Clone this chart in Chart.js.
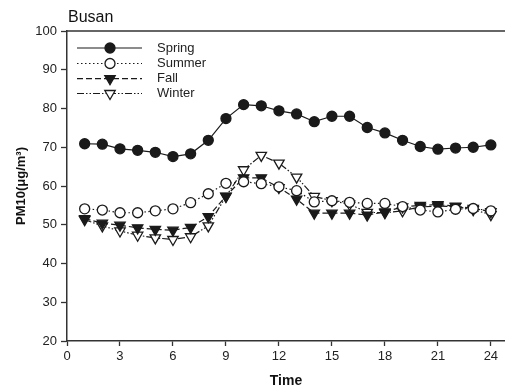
<!DOCTYPE html>
<html>
<head>
<meta charset="utf-8">
<script src="https://cdn.jsdelivr.net/npm/chart.js@4/dist/chart.umd.min.js"></script>
<style>
  html, body { margin: 0; padding: 0; background: #fff; }
  #wrap { width: 505px; height: 390px; position: relative; }
</style>
</head>
<body>
<div id="wrap"><canvas id="chart"></canvas></div>
<script>
const hours = [1,2,3,4,5,6,7,8,9,10,11,12,13,14,15,16,17,18,19,20,21,22,23,24];
const spring = [70.9,70.8,69.6,69.2,68.7,67.6,68.3,71.8,77.4,81.0,80.7,79.4,78.6,76.6,78.0,78.0,75.1,73.7,71.8,70.2,69.5,69.8,70.0,70.6];
const summer = [54.1,53.8,53.1,53.1,53.6,54.1,55.7,58.0,60.7,61.1,60.6,59.8,58.8,55.9,56.2,55.8,55.5,55.5,54.7,53.8,53.3,54.0,54.2,53.6];
const fall   = [51.6,50.4,49.9,49.2,48.8,48.6,49.3,52.1,57.4,62.1,62.1,59.6,56.6,53.0,53.0,53.0,52.5,53.3,54.6,55.0,55.2,54.8,54.2,53.4];
const winter = [51.3,49.7,48.4,47.3,46.6,46.2,46.9,49.7,57.3,64.2,67.9,65.9,62.3,57.3,56.2,55.3,53.2,53.1,53.6,54.6,54.8,54.7,53.9,52.6];
const seriesNames = ['Spring', 'Summer', 'Fall', 'Winter'];
const xTicks = [0,3,6,9,12,15,18,21,24];
const yTicks = [20,30,40,50,60,70,80,90,100];

const INK = '#1a1a1a';
const FONT = '"Liberation Sans", Arial, sans-serif';
const pts = arr => arr.map((v, i) => ({ x: hours[i], y: v }));

function series(label, data, dash, style, filled, radius, rot) {
  return {
    label, data: pts(data),
    borderColor: INK, borderWidth: 1.2, borderDash: dash,
    pointStyle: style, pointRotation: rot || 0, pointRadius: radius,
    pointBorderColor: INK, pointBorderWidth: 1.3,
    pointBackgroundColor: filled ? INK : '#fff',
    tension: 0, fill: false
  };
}

// legend with line samples + marker, plus title and top frame line
const decor = {
  id: 'decor',
  afterDraw(chart) {
    const { ctx, chartArea: a } = chart;
    ctx.save();
    ctx.strokeStyle = '#333'; ctx.lineWidth = 1.5;
    ctx.beginPath(); ctx.moveTo(a.left, a.top); ctx.lineTo(a.right, a.top); ctx.stroke();

    ctx.fillStyle = '#111';
    ctx.font = '16px ' + FONT;
    ctx.textBaseline = 'middle'; ctx.textAlign = 'left';
    ctx.fillText('Busan', 68, 18);

    const rows = [48, 63.5, 78.7, 93.5];
    chart.data.datasets.forEach((ds, i) => {
      const y = rows[i];
      ctx.strokeStyle = INK; ctx.lineWidth = 1.2;
      ctx.setLineDash(ds.borderDash || []);
      ctx.beginPath(); ctx.moveTo(77, y); ctx.lineTo(142, y); ctx.stroke();
      ctx.setLineDash([]);
      ctx.fillStyle = ds.pointBackgroundColor; ctx.strokeStyle = INK; ctx.lineWidth = 1.3;
      Chart.helpers.drawPoint(ctx, { pointStyle: ds.pointStyle, rotation: ds.pointRotation, radius: ds.pointRadius, borderWidth: 1.3 }, 110, y);
      ctx.fillStyle = '#222';
      ctx.font = '13px ' + FONT;
      ctx.fillText(ds.label, 157, y);
    });
    ctx.restore();
  }
};

new Chart(document.getElementById('chart'), {
  type: 'line',
  data: {
    datasets: [
      series(seriesNames[0], spring, [], 'circle', true, 5),
      series(seriesNames[1], summer, [1.5, 2.5], 'circle', false, 5),
      series(seriesNames[2], fall, [6, 3], 'triangle', true, 6, 180),
      series(seriesNames[3], winter, [7, 2, 1.5, 2, 1.5, 2], 'triangle', false, 6, 180)
    ]
  },
  options: {
    responsive: true, maintainAspectRatio: false, animation: false,
    layout: { autoPadding: false, padding: { top: 31, right: 0, left: 0, bottom: 0 } },
    plugins: { legend: { display: false }, tooltip: { enabled: false }, title: { display: false } },
    scales: {
      x: {
        type: 'linear', min: 0, max: 24.8,
        afterFit: s => { s.height = 49; },
        afterBuildTicks: s => { s.ticks = xTicks.map(v => ({ value: v })); },
        ticks: { color: '#222', font: { size: 13, family: FONT }, padding: 3, maxRotation: 0 },
        grid: { drawOnChartArea: false, tickLength: 5, color: '#333', tickWidth: 1.3 },
        border: { display: true, color: '#333', width: 1.5 },
        title: { display: true, text: 'Time', color: '#111', padding: 0,
          font: { size: 14, weight: 'bold', family: FONT } }
      },
      y: {
        min: 20, max: 100,
        afterFit: s => { s.width = 67; },
        afterBuildTicks: s => { s.ticks = yTicks.map(v => ({ value: v })); },
        ticks: { color: '#222', font: { size: 13, family: FONT }, padding: 4 },
        grid: { drawOnChartArea: false, tickLength: 6, color: '#333', tickWidth: 1.3 },
        border: { display: true, color: '#333', width: 1.5 },
        title: { display: true, text: 'PM10(μg/m³)', color: '#111', padding: { top: 14, bottom: 0 },
          font: { size: 13, weight: 'bold', family: FONT } }
      }
    }
  },
  plugins: [decor]
});
</script>
</body>
</html>
